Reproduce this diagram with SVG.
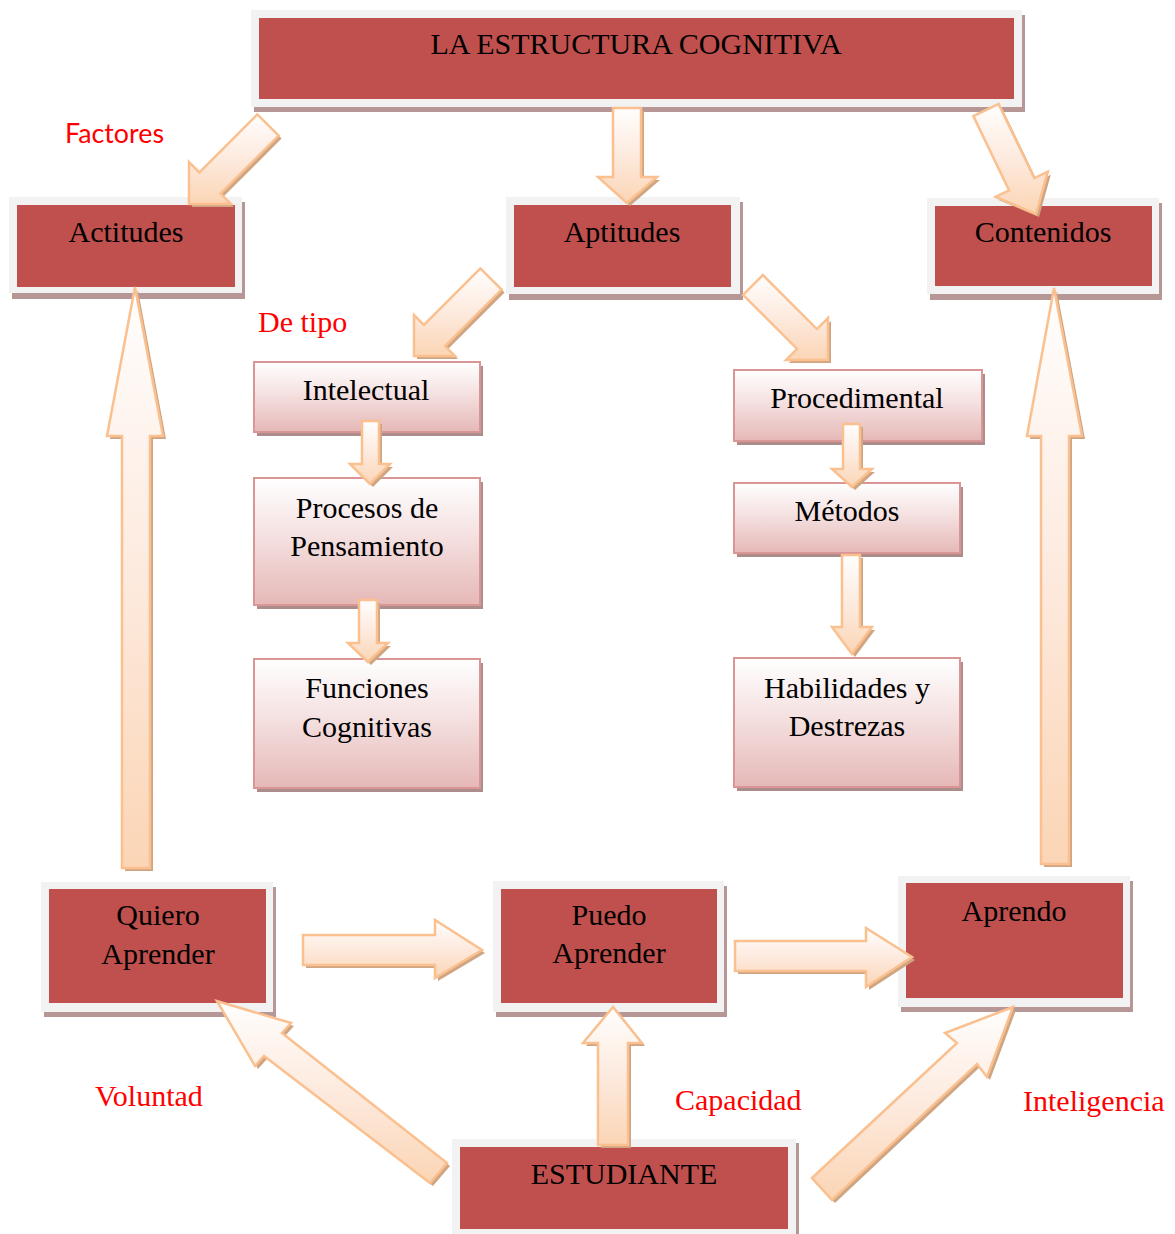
<svg xmlns="http://www.w3.org/2000/svg" xmlns:xlink="http://www.w3.org/1999/xlink" width="1175" height="1234" viewBox="0 0 1175 1234">
<style>
.frame{fill:#f2f2f2}
.red{fill:#c0504d}
.shd{fill:#b79696}
.pk{fill:url(#pinkGrad);stroke:#d99694;stroke-width:2}
.pshd{fill:#ad8c8c}
.t{font-family:"Liberation Serif","Times New Roman",serif;font-size:30px;fill:#000;text-anchor:middle}
.lbl{font-family:"Liberation Serif","Times New Roman",serif;font-size:30px;fill:#ff0000}
.lbls{font-family:Lato,"Liberation Sans",sans-serif;font-size:27px;fill:#ff0000}
.arr{fill:url(#arrGrad);stroke:#fac08f;stroke-width:2.5;stroke-linejoin:miter}
.ash{fill:#cfa582}
</style>
<defs>
<linearGradient id="pinkGrad" x1="0" y1="0" x2="0" y2="1">
<stop offset="0" stop-color="#ffffff"/>
<stop offset="0.45" stop-color="#f5e1e1"/>
<stop offset="1" stop-color="#e5b8b7"/>
</linearGradient>
<linearGradient id="arrGrad" x1="0" y1="0" x2="0" y2="1">
<stop offset="0" stop-color="#fffefd"/>
<stop offset="0.5" stop-color="#fdeade"/>
<stop offset="1" stop-color="#fbd5b5"/>
</linearGradient>
<polygon id="a1" points="257.4,114.4 199.4,172.4 189,162 189,204 231,204 220.6,193.6 278.6,135.6"/>
<polygon id="a2" points="613,108 641,108 641,177 657,177 627,203 598,177 613,177"/>
<polygon id="a3" points="973.4,116.1 1009.1,190.4 995.6,196.9 1036,214 1047.8,171.7 1034.3,178.2 998.6,103.9"/>
<polygon id="a4" points="480.4,268.4 423.9,324.9 414,315 414,356 455,356 445.1,346.1 501.6,289.6"/>
<polygon id="a5" points="743.1,294.9 797.1,348.9 786,360 828,360 828,318 816.9,329.1 762.9,275.1"/>
<polygon id="a6" points="362,421 379,421 379,464 390,464 370,484 350,464 362,464"/>
<polygon id="a7" points="359,600 377,600 377,643 388,643 368,662 348,643 359,643"/>
<polygon id="a8" points="843,424 860,424 860,469 872,469 852,487 832,469 843,469"/>
<polygon id="a9" points="842,555 860,555 860,627 872,627 852,654 832,627 842,627"/>
<polygon id="a10" points="122,868 122,436 107,436 135,287 163,436 150,436 150,868"/>
<polygon id="a11" points="1041,864 1041,436 1027,436 1054,288 1082,436 1069,436 1069,864"/>
<polygon id="a12" points="303,935 435,935 435,920 482,950 435,978 435,965 303,965"/>
<polygon id="a13" points="735,941 866,941 866,928 912,957 866,987 866,971 735,971"/>
<polygon id="a14" points="598,1145 598,1043 583,1043 613,1007 642,1043 628,1043 628,1145"/>
<polygon id="a15" points="447,1163 282,1033 291,1023 217,1001 255,1066 264,1056 430,1183"/>
<polygon id="a16" points="812,1178 957,1043 945,1033 1013,1007 987,1077 977,1064 832,1200"/>
</defs>
<rect width="1175" height="1234" fill="#ffffff"/>

<g id="nodes">
<g id="n-estructura">
<rect class="shd" x="254" y="15" width="771" height="97"/>
<rect class="frame" x="251" y="10" width="771" height="97"/>
<rect class="red" x="259" y="18" width="755" height="81"/>
<text class="t" x="636" y="54">LA ESTRUCTURA COGNITIVA</text>
</g>
<g id="n-actitudes">
<rect class="shd" x="12" y="202" width="233" height="97"/>
<rect class="frame" x="9" y="197" width="233" height="96"/>
<rect class="red" x="17" y="205" width="218" height="82"/>
<text class="t" x="126" y="242">Actitudes</text>
</g>
<g id="n-aptitudes">
<rect class="shd" x="509" y="202" width="234" height="98"/>
<rect class="frame" x="506" y="197" width="234" height="97"/>
<rect class="red" x="514" y="205" width="217" height="82"/>
<text class="t" x="622" y="242">Aptitudes</text>
</g>
<g id="n-contenidos">
<rect class="shd" x="930" y="203" width="232" height="97"/>
<rect class="frame" x="927" y="198" width="232" height="96"/>
<rect class="red" x="935" y="206" width="217" height="80"/>
<text class="t" x="1043" y="242">Contenidos</text>
</g>
<g id="n-intelectual">
<rect class="pshd" x="257" y="366" width="226" height="70"/>
<rect class="pk" x="254" y="362" width="226" height="70"/>
<text class="t" x="366" y="400">Intelectual</text>
</g>
<g id="n-procesos">
<rect class="pshd" x="257" y="482" width="226" height="127"/>
<rect class="pk" x="254" y="478" width="226" height="127"/>
<text class="t" x="367" y="518">Procesos de</text>
<text class="t" x="367" y="556">Pensamiento</text>
</g>
<g id="n-funciones">
<rect class="pshd" x="257" y="663" width="226" height="129"/>
<rect class="pk" x="254" y="659" width="226" height="129"/>
<text class="t" x="367" y="698">Funciones</text>
<text class="t" x="367" y="737">Cognitivas</text>
</g>
<g id="n-procedimental">
<rect class="pshd" x="737" y="374" width="248" height="71"/>
<rect class="pk" x="734" y="370" width="248" height="71"/>
<text class="t" x="857" y="408">Procedimental</text>
</g>
<g id="n-metodos">
<rect class="pshd" x="737" y="487" width="226" height="70"/>
<rect class="pk" x="734" y="483" width="226" height="70"/>
<text class="t" x="847" y="521">Métodos</text>
</g>
<g id="n-habilidades">
<rect class="pshd" x="737" y="662" width="226" height="129"/>
<rect class="pk" x="734" y="658" width="226" height="129"/>
<text class="t" x="847" y="698">Habilidades y</text>
<text class="t" x="847" y="736">Destrezas</text>
</g>
<g id="n-quiero">
<rect class="shd" x="44" y="887" width="232" height="130"/>
<rect class="frame" x="41" y="882" width="232" height="130"/>
<rect class="red" x="49" y="889" width="217" height="114"/>
<text class="t" x="158" y="925">Quiero</text>
<text class="t" x="158" y="964">Aprender</text>
</g>
<g id="n-puedo">
<rect class="shd" x="496" y="886" width="231" height="131"/>
<rect class="frame" x="493" y="881" width="231" height="131"/>
<rect class="red" x="501" y="889" width="216" height="114"/>
<text class="t" x="609" y="925">Puedo</text>
<text class="t" x="609" y="963">Aprender</text>
</g>
<g id="n-aprendo">
<rect class="shd" x="901" y="881" width="232" height="131"/>
<rect class="frame" x="898" y="876" width="232" height="131"/>
<rect class="red" x="906" y="883" width="217" height="115"/>
<text class="t" x="1014" y="921">Aprendo</text>
</g>
<g id="n-estudiante">
<rect class="shd" x="455" y="1143" width="344" height="100"/>
<rect class="frame" x="452" y="1139" width="344" height="100"/>
<rect class="red" x="460" y="1147" width="328" height="82"/>
<text class="t" x="624" y="1184">ESTUDIANTE</text>
</g>
</g>

<g id="connectors">
<use xlink:href="#a1" class="ash" transform="translate(3,3)"/><use xlink:href="#a1" class="arr"/>
<use xlink:href="#a2" class="ash" transform="translate(3,3)"/><use xlink:href="#a2" class="arr"/>
<use xlink:href="#a3" class="ash" transform="translate(3,3)"/><use xlink:href="#a3" class="arr"/>
<use xlink:href="#a4" class="ash" transform="translate(3,3)"/><use xlink:href="#a4" class="arr"/>
<use xlink:href="#a5" class="ash" transform="translate(3,3)"/><use xlink:href="#a5" class="arr"/>
<use xlink:href="#a6" class="ash" transform="translate(3,3)"/><use xlink:href="#a6" class="arr"/>
<use xlink:href="#a7" class="ash" transform="translate(3,3)"/><use xlink:href="#a7" class="arr"/>
<use xlink:href="#a8" class="ash" transform="translate(3,3)"/><use xlink:href="#a8" class="arr"/>
<use xlink:href="#a9" class="ash" transform="translate(3,3)"/><use xlink:href="#a9" class="arr"/>
<use xlink:href="#a10" class="ash" transform="translate(3,3)"/><use xlink:href="#a10" class="arr"/>
<use xlink:href="#a11" class="ash" transform="translate(3,3)"/><use xlink:href="#a11" class="arr"/>
<use xlink:href="#a12" class="ash" transform="translate(3,3)"/><use xlink:href="#a12" class="arr"/>
<use xlink:href="#a13" class="ash" transform="translate(3,3)"/><use xlink:href="#a13" class="arr"/>
<use xlink:href="#a14" class="ash" transform="translate(3,3)"/><use xlink:href="#a14" class="arr"/>
<use xlink:href="#a15" class="ash" transform="translate(3,3)"/><use xlink:href="#a15" class="arr"/>
<use xlink:href="#a16" class="ash" transform="translate(3,3)"/><use xlink:href="#a16" class="arr"/>
</g>

<g id="labels">
<text class="lbls" x="65" y="143" textLength="99" lengthAdjust="spacingAndGlyphs">Factores</text>
<text class="lbl" x="258" y="332">De tipo</text>
<text class="lbl" x="95" y="1106">Voluntad</text>
<text class="lbl" x="675" y="1110">Capacidad</text>
<text class="lbl" x="1023" y="1111">Inteligencia</text>
</g>
</svg>
